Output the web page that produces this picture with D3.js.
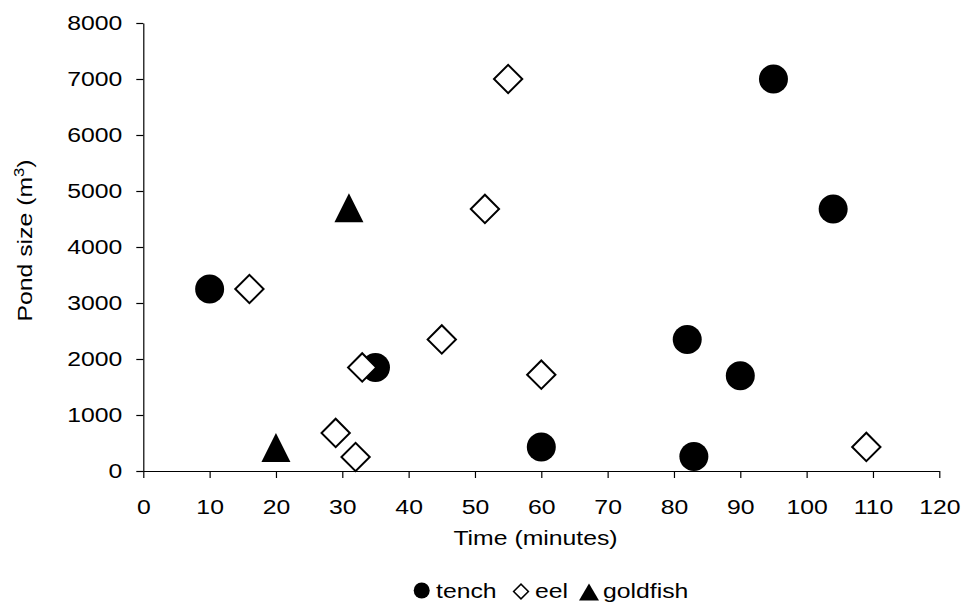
<!DOCTYPE html>
<html>
<head>
<meta charset="utf-8">
<script src="https://cdn.jsdelivr.net/npm/d3@7"></script>
<style>
  body { margin: 0; background: #fff; }
  text { font-family: Arial, "Liberation Sans", sans-serif; fill: #000; }
</style>
</head>
<body>
<div id="chart"></div>
<script>
// data
var tenchX = [10, 35, 60, 82, 83, 90, 95, 104];
var tenchY = [3250, 1850, 430, 2350, 260, 1700, 7000, 4680];
var eelX = [16, 29, 32, 33, 45, 51.5, 55, 60, 109];
var eelY = [3250, 680, 250, 1850, 2350, 4680, 7000, 1720, 430];
var goldX = [20, 31];
var goldY = [420, 4700];
var xTicks = d3.range(0, 121, 10);
var yTicks = d3.range(0, 8001, 1000);

var w = 973;
var h = 602;
var plotL = 143.3, plotR = 939.3, plotT = 23, plotB = 471;
var fs = 21, sx = 1.18; // text in the reference is a bit wide

var svg = d3.select("#chart").append("svg")
  .attr("width", w)
  .attr("height", h);

var xScale = d3.scaleLinear().domain([0, 120]).range([plotL, plotR]);
var yScale = d3.scaleLinear().domain([0, 8000]).range([plotB, plotT]);

var xAxis = d3.axisBottom(xScale).tickValues(xTicks).tickSize(7).tickSizeOuter(0).tickPadding(21);
var yAxis = d3.axisLeft(yScale).tickValues(yTicks).tickFormat(d3.format("d"))
  .tickSize(7).tickSizeOuter(0).tickPadding(14);

var gx = svg.append("g")
  .attr("transform", "translate(0," + plotB + ")")
  .call(xAxis);
var gy = svg.append("g")
  .attr("transform", "translate(" + plotL + ",0)")
  .call(yAxis);

[gx, gy].forEach(function (g) {
  g.selectAll("path, line").attr("stroke", "#000").attr("stroke-width", 1.2);
  g.selectAll("text").style("font-size", fs + "px").attr("fill", "#000")
    .attr("transform", "scale(" + sx + ",1)");
});
gy.selectAll("text").attr("x", -21 / sx);

// axis titles
svg.append("text")
  .attr("transform", "translate(535.5,545) scale(" + sx + ",1)")
  .attr("text-anchor", "middle")
  .style("font-size", fs + "px")
  .text("Time (minutes)");

var yl = svg.append("text")
  .attr("transform", "translate(32,240.5) rotate(-90) scale(" + sx + ",1)")
  .attr("text-anchor", "middle")
  .style("font-size", fs + "px");
yl.append("tspan").text("Pond size (m");
yl.append("tspan").attr("dy", -8).style("font-size", "14px").text("3");
yl.append("tspan").attr("dy", 8).text(")");

// custom triangle, width x height
function triangle(tw, th) {
  return {
    draw: function (ctx) {
      ctx.moveTo(0, -th / 2);
      ctx.lineTo(tw / 2, th / 2);
      ctx.lineTo(-tw / 2, th / 2);
      ctx.closePath();
    }
  };
}

var tench = d3.zip(tenchX, tenchY);
var eel = d3.zip(eelX, eelY);
var gold = d3.zip(goldX, goldY);

svg.selectAll(".tench").data(tench).enter().append("circle")
  .attr("class", "tench")
  .attr("cx", function (d) { return xScale(d[0]); })
  .attr("cy", function (d) { return yScale(d[1]); })
  .attr("r", 14.5)
  .attr("fill", "#000");

svg.selectAll(".eel").data(eel).enter().append("path")
  .attr("class", "eel")
  .attr("d", d3.symbol().type(d3.symbolSquare).size(400))
  .attr("transform", function (d) {
    return "translate(" + xScale(d[0]) + "," + yScale(d[1]) + ") rotate(45)";
  })
  .attr("fill", "#fff")
  .attr("stroke", "#000")
  .attr("stroke-width", 2);

svg.selectAll(".gold").data(gold).enter().append("path")
  .attr("class", "gold")
  .attr("d", d3.symbol().type(triangle(29, 29)))
  .attr("transform", function (d) {
    return "translate(" + xScale(d[0]) + "," + yScale(d[1]) + ")";
  })
  .attr("fill", "#000");

// legend
var lg = svg.append("g").attr("transform", "translate(0,598)");
lg.append("circle").attr("cx", 421.7).attr("cy", -7.5).attr("r", 8).attr("fill", "#000");
lg.append("text").attr("transform", "translate(436,0) scale(" + sx + ",1)")
  .style("font-size", fs + "px").text("tench");
lg.append("path")
  .attr("d", d3.symbol().type(d3.symbolSquare).size(110))
  .attr("transform", "translate(521,-6.5) rotate(45)")
  .attr("fill", "#fff").attr("stroke", "#000").attr("stroke-width", 1.5);
lg.append("text").attr("transform", "translate(535,0) scale(" + sx + ",1)")
  .style("font-size", fs + "px").text("eel");
lg.append("path")
  .attr("d", d3.symbol().type(triangle(20, 17)))
  .attr("transform", "translate(589,-6)")
  .attr("fill", "#000");
lg.append("text").attr("transform", "translate(603,0) scale(" + sx + ",1)")
  .style("font-size", fs + "px").text("goldfish");
</script>
</body>
</html>
